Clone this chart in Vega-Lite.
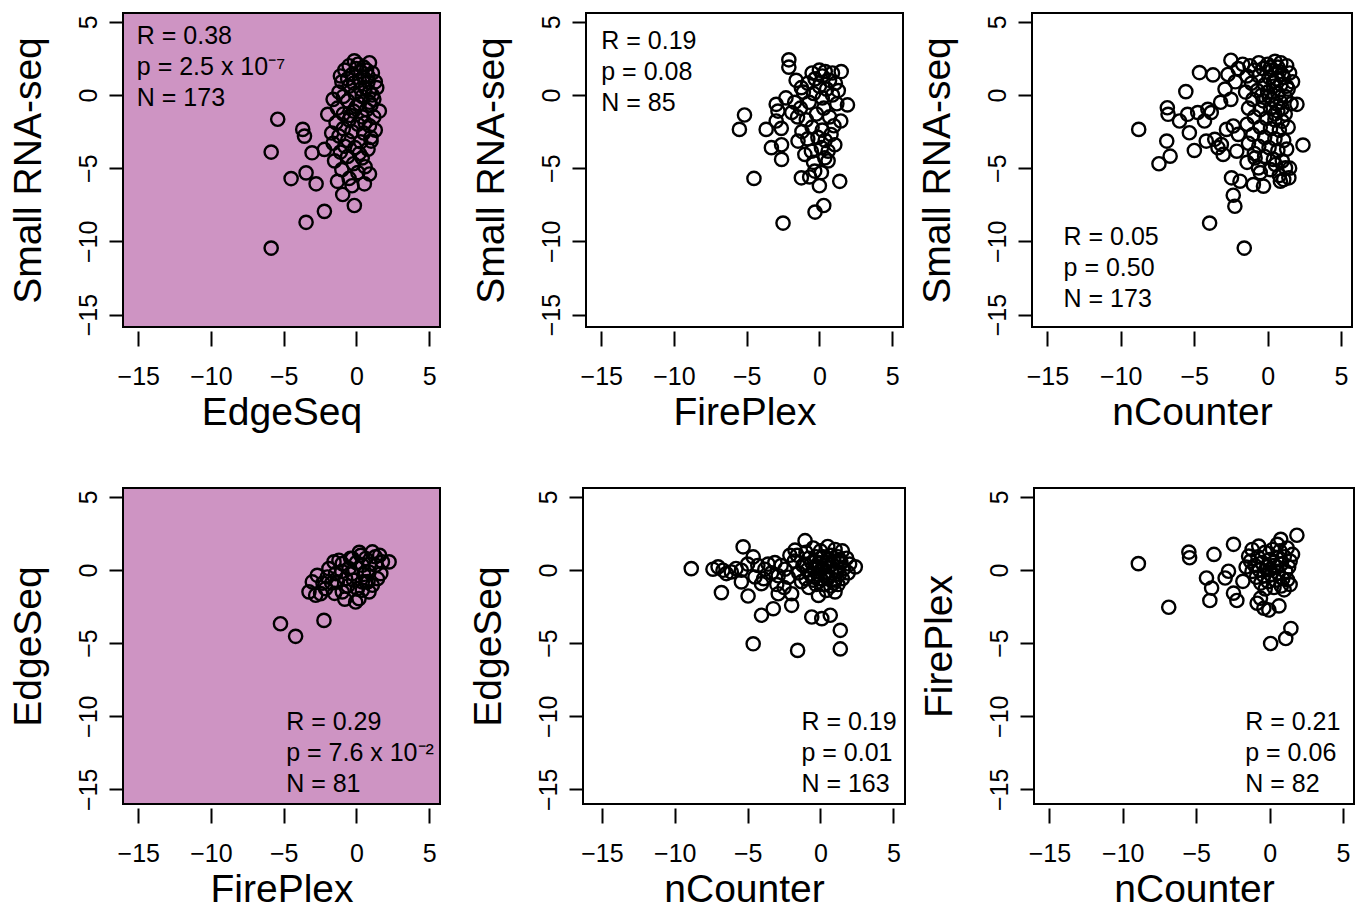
{
  "$schema": "https://vega.github.io/schema/vega-lite/v6.json",
  "background": "white",
  "padding": {"left": 7, "top": 12, "right": 0, "bottom": 0},
  "config": {
    "font": "Liberation Sans",
    "view": {"stroke": "black", "strokeWidth": 2},
    "axis": {"domain": false, "grid": false, "tickColor": "black", "tickWidth": 2, "labelColor": "black", "titleColor": "black", "labelFont": "Liberation Sans", "titleFont": "Liberation Sans", "labelFontSize": 25, "titleFontSize": 39, "titleFontWeight": "normal", "labelFlush": false, "labelOverlap": false},
    "axisX": {"tickSize": 15, "offset": 4, "labelPadding": 18, "titlePadding": 4},
    "axisY": {"tickSize": 14, "labelAngle": 270, "labelAlign": "center", "labelBaseline": "bottom", "labelPadding": 8, "titlePadding": 28},
    "point": {"shape": "circle", "filled": false, "size": 175, "strokeWidth": 2.4, "color": "black", "opacity": 1},
    "text": {"font": "Liberation Sans", "fontSize": 25, "align": "left", "baseline": "middle", "lineHeight": 31, "color": "black"}
  },
  "datasets": {
    "p1": [
      {"x": -5.41, "y": -1.66}, {"x": -5.86, "y": -3.9}, {"x": -5.86, "y": -10.46}, {"x": -3.69, "y": -2.35}, {"x": -3.57, "y": -2.81}, {"x": -3.05, "y": -3.95}, {"x": -4.49, "y": -5.71}, {"x": -3.46, "y": -5.32}, {"x": -2.77, "y": -6.07}, {"x": -2.2, "y": -7.95}, {"x": -3.46, "y": -8.7}, {"x": -0.14, "y": -7.55}, {"x": -0.94, "y": -6.8}, {"x": 0.55, "y": -6.07}, {"x": -2.2, "y": -3.72}, {"x": -1.97, "y": -1.32}, {"x": 1.58, "y": -1.1}, {"x": 1.01, "y": -3.15},
      {"x": -0.14, "y": 2.33}, {"x": 0.9, "y": 2.2}, {"x": 0.1, "y": 2.1}, {"x": -0.5, "y": 2.0}, {"x": 0.5, "y": 1.9}, {"x": -0.8, "y": 1.7}, {"x": 0.3, "y": 1.6}, {"x": 1.1, "y": 1.5}, {"x": -0.3, "y": 1.4}, {"x": 0.8, "y": 1.3}, {"x": 1.3, "y": 0.9}, {"x": 0.2, "y": 1.0}, {"x": -1.0, "y": 0.9}, {"x": -0.5, "y": 0.6}, {"x": 1.4, "y": 0.5}, {"x": 0.6, "y": 0.5}, {"x": 0.9, "y": 0.2}, {"x": -1.2, "y": 0.2}, {"x": -0.1, "y": 0.1}, {"x": 0.4, "y": -0.1}, {"x": -1.6, "y": -0.3}, {"x": 1.2, "y": -0.3}, {"x": -0.6, "y": -0.4}, {"x": 0.2, "y": -0.6}, {"x": 1.0, "y": -0.7}, {"x": -1.3, "y": -0.9}, {"x": 0.7, "y": -1.0}, {"x": -0.2, "y": -1.1}, {"x": -0.9, "y": -1.3}, {"x": 0.4, "y": -1.5}, {"x": 1.2, "y": -1.5}, {"x": -0.5, "y": -1.7}, {"x": -1.4, "y": -1.9}, {"x": 0.1, "y": -2.0}, {"x": 0.9, "y": -2.1}, {"x": -0.9, "y": -2.3}, {"x": -0.3, "y": -2.5}, {"x": 0.5, "y": -2.6}, {"x": -1.2, "y": -2.8}, {"x": 1.0, "y": -2.9}, {"x": -0.6, "y": -3.1}, {"x": 0.3, "y": -3.2}, {"x": -1.6, "y": -3.3}, {"x": -0.1, "y": -3.6}, {"x": 0.8, "y": -3.7}, {"x": -1.1, "y": -3.9}, {"x": -0.6, "y": -4.2}, {"x": 0.4, "y": -4.3}, {"x": -1.5, "y": -4.5}, {"x": -0.2, "y": -4.7}, {"x": 0.6, "y": -4.9}, {"x": -1.0, "y": -5.1}, {"x": 0.1, "y": -5.3}, {"x": -0.5, "y": -5.7}, {"x": 0.9, "y": -5.4}, {"x": -1.3, "y": -5.9}, {"x": -0.3, "y": -6.2},
      {"x": 0.0, "y": 1.8}, {"x": 0.7, "y": 1.7}, {"x": -0.6, "y": 1.1}, {"x": 0.3, "y": 0.4}, {"x": 1.1, "y": 0.0}, {"x": -0.9, "y": -0.1}, {"x": 0.0, "y": -0.8}, {"x": -0.4, "y": -1.4}, {"x": 0.6, "y": -1.9}, {"x": -0.8, "y": -3.5}, {"x": 0.2, "y": -4.0}, {"x": 0.9, "y": -0.5}, {"x": -1.7, "y": -2.6}, {"x": 1.3, "y": -2.4}, {"x": -0.2, "y": 0.8}, {"x": 0.5, "y": 1.2}, {"x": -1.1, "y": 1.3}, {"x": 0.8, "y": 0.9}
    ],
    "p2": [
      {"x": -2.1, "y": 2.4}, {"x": -2.1, "y": 1.9}, {"x": -5.15, "y": -1.37}, {"x": -5.5, "y": -2.35}, {"x": -3.66, "y": -2.35}, {"x": -2.97, "y": -0.64}, {"x": -2.85, "y": -1.1}, {"x": -2.97, "y": -1.78}, {"x": -2.62, "y": -2.28}, {"x": -3.3, "y": -3.6}, {"x": -2.6, "y": -3.4}, {"x": -2.6, "y": -4.4}, {"x": -4.5, "y": -5.7}, {"x": -2.5, "y": -8.75}, {"x": -0.3, "y": -8.0}, {"x": 0.3, "y": -7.55}, {"x": 1.4, "y": -5.9}, {"x": 0.0, "y": -6.2}, {"x": -1.24, "y": -5.66}, {"x": -0.67, "y": -5.6}, {"x": 1.93, "y": -0.68}, {"x": -1.24, "y": 0.5}, {"x": -1.7, "y": -0.5}, {"x": -1.9, "y": -1.2}, {"x": -1.47, "y": -3.15}, {"x": -1.0, "y": -4.06}, {"x": -0.55, "y": -3.84}, {"x": 0.14, "y": -3.6}, {"x": 0.37, "y": -4.3}, {"x": 0.6, "y": -3.84}, {"x": 1.06, "y": -3.4}, {"x": 1.47, "y": -1.78}, {"x": -0.32, "y": -5.2}, {"x": 0.14, "y": -5.3},
      {"x": -0.5, "y": 1.5}, {"x": 0.0, "y": 1.7}, {"x": 0.4, "y": 1.6}, {"x": 0.9, "y": 1.5}, {"x": 1.5, "y": 1.6}, {"x": 0.2, "y": 1.3}, {"x": -0.3, "y": 1.1}, {"x": 0.7, "y": 1.0}, {"x": 1.1, "y": 0.8}, {"x": -0.8, "y": 0.8}, {"x": 0.0, "y": 0.6}, {"x": 0.5, "y": 0.4}, {"x": -1.1, "y": 0.2}, {"x": -0.4, "y": 0.1}, {"x": 0.9, "y": 0.0}, {"x": 0.2, "y": -0.2}, {"x": -0.7, "y": -0.5}, {"x": 1.2, "y": -0.6}, {"x": -1.3, "y": -0.9}, {"x": 0.3, "y": -0.9}, {"x": -0.2, "y": -1.3}, {"x": 0.7, "y": -1.5}, {"x": -0.9, "y": -1.7}, {"x": 1.0, "y": -2.1}, {"x": -0.5, "y": -2.2}, {"x": 0.2, "y": -2.4}, {"x": -1.2, "y": -2.5}, {"x": -0.1, "y": -2.9}, {"x": 0.8, "y": -2.7}, {"x": -0.8, "y": -3.0}, {"x": 0.4, "y": -3.1},
      {"x": -1.5, "y": -1.5}, {"x": -2.3, "y": -0.2}, {"x": -1.6, "y": 1.0}, {"x": 0.6, "y": -4.5}, {"x": -0.4, "y": -4.6}, {"x": 1.3, "y": 0.3}
    ],
    "p3": [
      {"x": -8.78, "y": -2.35}, {"x": -7.4, "y": -4.7}, {"x": -6.64, "y": -4.18}, {"x": -6.87, "y": -3.15}, {"x": -6.83, "y": -0.87}, {"x": -6.78, "y": -1.32}, {"x": -6.0, "y": -1.78}, {"x": -5.45, "y": -1.32}, {"x": -5.33, "y": -2.58}, {"x": -4.99, "y": -3.79}, {"x": -5.57, "y": 0.23}, {"x": -4.64, "y": 1.53}, {"x": -3.72, "y": 1.37}, {"x": -2.5, "y": 2.37}, {"x": -4.76, "y": -1.2}, {"x": -4.07, "y": -0.98}, {"x": -3.84, "y": -1.2}, {"x": -4.3, "y": -1.78}, {"x": -4.18, "y": -3.15}, {"x": -3.6, "y": -3.03}, {"x": -3.38, "y": -3.6}, {"x": -3.03, "y": -4.06}, {"x": -3.15, "y": -3.38}, {"x": -2.8, "y": -2.35}, {"x": -2.34, "y": -2.12}, {"x": -2.0, "y": -2.69}, {"x": -2.1, "y": -3.84}, {"x": -2.46, "y": -5.66}, {"x": -1.88, "y": -5.89}, {"x": -2.34, "y": -6.85}, {"x": -2.23, "y": -7.6}, {"x": -3.95, "y": -8.75}, {"x": -1.59, "y": -10.46}, {"x": -0.97, "y": -6.12}, {"x": -0.28, "y": -6.23}, {"x": 1.1, "y": -5.78}, {"x": 1.45, "y": -5.66}, {"x": 0.87, "y": -5.89}, {"x": 2.41, "y": -3.42}, {"x": 2.0, "y": -0.64}, {"x": 1.22, "y": -4.98}, {"x": 0.53, "y": -4.75}, {"x": -0.62, "y": -4.98}, {"x": -0.85, "y": -4.3},
      {"x": -2.9, "y": 0.4}, {"x": -2.5, "y": -0.3}, {"x": -3.2, "y": -0.5}, {"x": -2.2, "y": 0.9}, {"x": -2.7, "y": 1.4}, {"x": -2.0, "y": 1.8}, {"x": -1.7, "y": 2.1},
      {"x": -1.2, "y": 2.0}, {"x": -0.6, "y": 2.2}, {"x": 0.0, "y": 2.1}, {"x": 0.5, "y": 2.3}, {"x": 0.9, "y": 2.2}, {"x": 1.3, "y": 2.0}, {"x": -0.9, "y": 1.7}, {"x": -0.3, "y": 1.8}, {"x": 0.3, "y": 1.7}, {"x": 0.8, "y": 1.6}, {"x": 1.5, "y": 1.5}, {"x": -1.4, "y": 1.3}, {"x": -0.6, "y": 1.3}, {"x": 0.1, "y": 1.2}, {"x": 0.6, "y": 1.1}, {"x": 1.1, "y": 1.2}, {"x": 1.7, "y": 0.9}, {"x": -1.1, "y": 0.8}, {"x": -0.2, "y": 0.7}, {"x": 0.4, "y": 0.6}, {"x": 0.9, "y": 0.7}, {"x": 1.4, "y": 0.4}, {"x": -1.5, "y": 0.2}, {"x": -0.7, "y": 0.3}, {"x": 0.0, "y": 0.2}, {"x": 0.7, "y": 0.1}, {"x": 1.2, "y": -0.1}, {"x": -1.0, "y": -0.3}, {"x": -0.3, "y": -0.4}, {"x": 0.3, "y": -0.3}, {"x": 0.9, "y": -0.5}, {"x": 1.6, "y": -0.6}, {"x": -1.3, "y": -0.9}, {"x": -0.5, "y": -1.0}, {"x": 0.2, "y": -0.9}, {"x": 0.7, "y": -1.1}, {"x": 1.2, "y": -1.3}, {"x": -0.9, "y": -1.5}, {"x": -0.1, "y": -1.6}, {"x": 0.5, "y": -1.7}, {"x": 1.0, "y": -1.8}, {"x": -1.4, "y": -2.0}, {"x": -0.5, "y": -2.2}, {"x": 0.2, "y": -2.3}, {"x": 0.8, "y": -2.4}, {"x": 1.4, "y": -2.2}, {"x": -1.0, "y": -2.7}, {"x": -0.2, "y": -2.9}, {"x": 0.5, "y": -3.0}, {"x": 1.1, "y": -3.1}, {"x": -1.3, "y": -3.3}, {"x": -0.6, "y": -3.5}, {"x": 0.1, "y": -3.6}, {"x": 0.7, "y": -3.8}, {"x": 1.3, "y": -3.7}, {"x": -0.9, "y": -4.0}, {"x": -0.2, "y": -4.2}, {"x": 0.4, "y": -4.4}, {"x": 1.0, "y": -4.5}, {"x": -1.4, "y": -4.6}, {"x": -0.5, "y": -5.3}, {"x": 0.2, "y": -5.1}, {"x": 0.8, "y": -5.5}, {"x": 1.5, "y": -5.0},
      {"x": 0.2, "y": 1.9}, {"x": 0.7, "y": 1.9}, {"x": 1.0, "y": 1.4}, {"x": 0.4, "y": 0.9}, {"x": 1.3, "y": 0.6}, {"x": 0.1, "y": -0.1}, {"x": 0.6, "y": -0.6}, {"x": 1.0, "y": -0.9}, {"x": -0.4, "y": 0.0}, {"x": 0.5, "y": -1.3}
    ],
    "p4": [
      {"x": -5.22, "y": -3.68}, {"x": -4.18, "y": -4.54}, {"x": -2.23, "y": -3.45},
      {"x": -3.26, "y": -1.5}, {"x": -3.03, "y": -0.82}, {"x": -2.69, "y": -0.37}, {"x": -2.46, "y": -1.62}, {"x": -2.8, "y": -1.73}, {"x": -2.12, "y": -1.28}, {"x": -1.89, "y": 0.09}, {"x": -1.54, "y": 0.55}, {"x": -1.2, "y": 0.66}, {"x": -1.43, "y": -0.25}, {"x": -0.97, "y": -1.5}, {"x": -0.74, "y": -0.6}, {"x": -0.51, "y": 0.09}, {"x": -0.28, "y": -0.25}, {"x": -0.05, "y": -2.19}, {"x": 0.18, "y": -1.96}, {"x": 0.07, "y": -1.28}, {"x": 0.41, "y": -0.82}, {"x": 0.41, "y": 0.32}, {"x": 0.64, "y": 0.78}, {"x": 0.87, "y": -0.14}, {"x": 1.1, "y": 1.23}, {"x": 1.33, "y": 0.32}, {"x": 1.45, "y": -0.6}, {"x": 1.79, "y": 0.55}, {"x": 2.25, "y": 0.55}, {"x": 1.68, "y": -0.25}, {"x": 0.64, "y": -0.82}, {"x": -0.28, "y": 0.78}, {"x": -0.97, "y": 0.43}, {"x": -1.31, "y": -0.82}, {"x": -2.0, "y": -0.48}, {"x": 0.3, "y": 1.0}, {"x": 1.1, "y": -1.05}, {"x": 0.87, "y": -1.5}, {"x": 0.41, "y": -1.39},
      {"x": -1.7, "y": -0.9}, {"x": -0.6, "y": -1.1}, {"x": 0.0, "y": 0.5}, {"x": 0.9, "y": 0.4}, {"x": -0.2, "y": -0.7}, {"x": 1.3, "y": 0.9}, {"x": 0.5, "y": -0.3}, {"x": -1.0, "y": -0.1}, {"x": -2.3, "y": -0.9}, {"x": 0.2, "y": 1.2}, {"x": -0.4, "y": 0.8}, {"x": 1.6, "y": 1.0}, {"x": 0.8, "y": -0.8}, {"x": -1.5, "y": -1.6}, {"x": -0.8, "y": -2.0}
    ],
    "p5": [
      {"x": -8.87, "y": 0.09}, {"x": -7.38, "y": 0.05}, {"x": -7.03, "y": 0.21}, {"x": -6.69, "y": -0.02}, {"x": -6.46, "y": -0.25}, {"x": -6.12, "y": -0.14}, {"x": -5.43, "y": -0.02}, {"x": -5.43, "y": -0.82}, {"x": -6.8, "y": -1.55}, {"x": -5.31, "y": 1.58}, {"x": -4.97, "y": -1.78}, {"x": -4.62, "y": 0.89}, {"x": -4.5, "y": -0.48}, {"x": -4.05, "y": -0.94}, {"x": -4.05, "y": -3.1}, {"x": -3.24, "y": -2.65}, {"x": -4.62, "y": -5.05}, {"x": -1.98, "y": -2.42}, {"x": -1.57, "y": -5.5}, {"x": -0.6, "y": -3.22}, {"x": 0.09, "y": -3.33}, {"x": 0.67, "y": -3.1}, {"x": 1.36, "y": -4.13}, {"x": 1.36, "y": -5.4}, {"x": -1.06, "y": 2.0}, {"x": -1.75, "y": 1.35}, {"x": 2.39, "y": 0.21}, {"x": -2.9, "y": -1.63}, {"x": -1.98, "y": -1.63}, {"x": -0.14, "y": -1.74},
      {"x": -3.82, "y": 0.05}, {"x": -3.36, "y": -0.2}, {"x": -2.9, "y": -0.4}, {"x": -2.44, "y": 0.05}, {"x": -3.13, "y": 0.5}, {"x": -3.6, "y": 0.4}, {"x": -2.7, "y": 0.3}, {"x": -2.2, "y": -0.5}, {"x": -3.0, "y": -1.0}, {"x": -2.5, "y": -1.2}, {"x": -1.8, "y": 0.6}, {"x": -1.5, "y": -0.2}, {"x": -1.2, "y": 0.3}, {"x": -1.6, "y": 1.0}, {"x": -1.3, "y": -0.8}, {"x": -2.1, "y": 1.0}, {"x": -3.9, "y": -0.6}, {"x": -4.3, "y": 0.3}, {"x": -5.0, "y": 0.4}, {"x": -5.8, "y": 0.1},
      {"x": -1.0, "y": 1.2}, {"x": -0.5, "y": 1.5}, {"x": 0.0, "y": 1.3}, {"x": 0.5, "y": 1.6}, {"x": 1.0, "y": 1.4}, {"x": 1.5, "y": 1.3}, {"x": -0.8, "y": 0.8}, {"x": -0.3, "y": 0.9}, {"x": 0.2, "y": 0.9}, {"x": 0.7, "y": 1.0}, {"x": 1.2, "y": 0.9}, {"x": 1.8, "y": 0.8}, {"x": -1.1, "y": 0.4}, {"x": -0.6, "y": 0.5}, {"x": -0.1, "y": 0.5}, {"x": 0.4, "y": 0.5}, {"x": 0.9, "y": 0.6}, {"x": 1.4, "y": 0.5}, {"x": 2.0, "y": 0.4}, {"x": -0.9, "y": 0.0}, {"x": -0.4, "y": 0.1}, {"x": 0.1, "y": 0.1}, {"x": 0.6, "y": 0.2}, {"x": 1.1, "y": 0.2}, {"x": 1.6, "y": 0.1}, {"x": -0.7, "y": -0.3}, {"x": -0.2, "y": -0.3}, {"x": 0.3, "y": -0.2}, {"x": 0.8, "y": -0.2}, {"x": 1.3, "y": -0.3}, {"x": 1.9, "y": -0.2}, {"x": -1.0, "y": -0.6}, {"x": -0.5, "y": -0.7}, {"x": 0.0, "y": -0.6}, {"x": 0.5, "y": -0.6}, {"x": 1.0, "y": -0.7}, {"x": 1.5, "y": -0.6}, {"x": -0.3, "y": -1.0}, {"x": 0.2, "y": -1.0}, {"x": 0.7, "y": -1.1}, {"x": 1.2, "y": -1.0}, {"x": -0.8, "y": -1.2}, {"x": 0.4, "y": -1.4}, {"x": 1.0, "y": -1.5},
      {"x": 0.3, "y": 0.3}, {"x": 0.8, "y": 0.4}, {"x": -0.2, "y": 0.2}, {"x": 0.5, "y": -0.4}, {"x": 1.1, "y": -0.1}, {"x": 0.0, "y": 0.8}, {"x": 0.6, "y": 0.7}, {"x": 1.3, "y": 0.7}, {"x": -0.4, "y": -0.5}, {"x": 0.9, "y": -0.9}
    ],
    "p6": [
      {"x": -8.94, "y": 0.43}, {"x": -6.87, "y": -2.55}, {"x": -5.5, "y": 1.22}, {"x": -5.45, "y": 0.83}, {"x": -3.79, "y": 1.06}, {"x": -2.46, "y": 1.75}, {"x": -4.3, "y": -0.55}, {"x": -3.95, "y": -1.24}, {"x": -4.07, "y": -2.09}, {"x": -3.03, "y": -0.55}, {"x": -2.8, "y": -0.09}, {"x": -2.46, "y": -1.59}, {"x": -2.23, "y": -2.09}, {"x": -1.82, "y": -0.78}, {"x": -0.85, "y": -2.28}, {"x": -0.39, "y": -2.62}, {"x": -0.05, "y": -2.74}, {"x": 0.64, "y": -2.46}, {"x": -0.62, "y": -1.93}, {"x": 0.07, "y": -5.03}, {"x": 1.1, "y": -4.69}, {"x": 1.45, "y": -4.0}, {"x": 1.86, "y": 2.37}, {"x": 0.76, "y": 2.09}, {"x": 0.53, "y": 1.75}, {"x": -0.74, "y": 1.63}, {"x": -1.19, "y": 1.4}, {"x": -1.43, "y": 0.94}, {"x": 1.56, "y": 1.06}, {"x": 1.22, "y": -0.67}, {"x": 0.99, "y": -1.36},
      {"x": -1.3, "y": 0.6}, {"x": -0.8, "y": 0.9}, {"x": -0.3, "y": 1.2}, {"x": 0.2, "y": 1.4}, {"x": 0.7, "y": 1.3}, {"x": 1.2, "y": 1.5}, {"x": -1.0, "y": 0.3}, {"x": -0.5, "y": 0.5}, {"x": 0.0, "y": 0.7}, {"x": 0.5, "y": 0.8}, {"x": 1.0, "y": 0.9}, {"x": 1.4, "y": 0.6}, {"x": -1.2, "y": -0.1}, {"x": -0.7, "y": 0.0}, {"x": -0.2, "y": 0.2}, {"x": 0.3, "y": 0.3}, {"x": 0.8, "y": 0.4}, {"x": 1.3, "y": 0.2}, {"x": -0.9, "y": -0.5}, {"x": -0.4, "y": -0.4}, {"x": 0.1, "y": -0.3}, {"x": 0.6, "y": -0.2}, {"x": 1.1, "y": -0.1}, {"x": -0.6, "y": -0.9}, {"x": -0.1, "y": -0.8}, {"x": 0.4, "y": -0.7}, {"x": 0.9, "y": -0.6}, {"x": -0.3, "y": -1.3}, {"x": 0.3, "y": -1.2}, {"x": 0.8, "y": -1.1}, {"x": 1.4, "y": -1.0}, {"x": 0.0, "y": 0.0}, {"x": 0.5, "y": 0.2}, {"x": -1.6, "y": 0.2}
    ]
  },
  "vconcat": [
    {
      "hconcat": [
        {
          "hconcat": [
            {
              "width": 317, "height": 314,
              "view": {"fill": "#ce94c3"},
              "layer": [
                {"data": {"name": "p1"}, "mark": "point",
                 "encoding": {
                   "x": {"field": "x", "type": "quantitative", "scale": {"domain": [-16.05, 5.75], "nice": false, "zero": false}, "axis": {"title": "EdgeSeq", "values": [-15, -10, -5, 0, 5]}},
                   "y": {"field": "y", "type": "quantitative", "scale": {"domain": [-15.85, 5.6], "nice": false, "zero": false}, "axis": {"title": "Small RNA-seq", "values": [-15, -10, -5, 0, 5]}}}},
                {"data": {"values": [{}]}, "mark": {"type": "text", "text": ["R = 0.38", "p = 2.5 x 10⁻⁷", "N = 173"]},
                 "encoding": {"x": {"datum": -15.1, "type": "quantitative"}, "y": {"datum": 4.04, "type": "quantitative"}}}
              ]
            },
            {
              "width": 317, "height": 314,
              "layer": [
                {"data": {"name": "p2"}, "mark": "point",
                 "encoding": {
                   "x": {"field": "x", "type": "quantitative", "scale": {"domain": [-16.05, 5.75], "nice": false, "zero": false}, "axis": {"title": "FirePlex", "values": [-15, -10, -5, 0, 5]}},
                   "y": {"field": "y", "type": "quantitative", "scale": {"domain": [-15.85, 5.6], "nice": false, "zero": false}, "axis": {"title": "Small RNA-seq", "values": [-15, -10, -5, 0, 5]}}}},
                {"data": {"values": [{}]}, "mark": {"type": "text", "text": ["R = 0.19", "p = 0.08", "N = 85"]},
                 "encoding": {"x": {"datum": -15.0, "type": "quantitative"}, "y": {"datum": 3.7, "type": "quantitative"}}}
              ]
            }
          ],
          "spacing": 29
        },
        {
          "width": 320, "height": 314,
          "layer": [
            {"data": {"name": "p3"}, "mark": "point",
             "encoding": {
               "x": {"field": "x", "type": "quantitative", "scale": {"domain": [-16.05, 5.75], "nice": false, "zero": false}, "axis": {"title": "nCounter", "values": [-15, -10, -5, 0, 5]}},
               "y": {"field": "y", "type": "quantitative", "scale": {"domain": [-15.85, 5.6], "nice": false, "zero": false}, "axis": {"title": "Small RNA-seq", "values": [-15, -10, -5, 0, 5]}}}},
            {"data": {"values": [{}]}, "mark": {"type": "text", "text": ["R = 0.05", "p = 0.50", "N = 173"]},
             "encoding": {"x": {"datum": -13.9, "type": "quantitative"}, "y": {"datum": -9.73, "type": "quantitative"}}}
          ]
        }
      ],
      "spacing": 12
    },
    {
      "hconcat": [
        {
          "hconcat": [
            {
              "width": 317, "height": 316,
              "view": {"fill": "#ce94c3"},
              "layer": [
                {"data": {"name": "p4"}, "mark": "point",
                 "encoding": {
                   "x": {"field": "x", "type": "quantitative", "scale": {"domain": [-16.05, 5.75], "nice": false, "zero": false}, "axis": {"title": "FirePlex", "values": [-15, -10, -5, 0, 5]}},
                   "y": {"field": "y", "type": "quantitative", "scale": {"domain": [-16.0, 5.6], "nice": false, "zero": false}, "axis": {"title": "EdgeSeq", "values": [-15, -10, -5, 0, 5]}}}},
                {"data": {"values": [{}]}, "mark": {"type": "text", "text": ["R = 0.29", "p = 7.6 x 10⁻²", "N = 81"]},
                 "encoding": {"x": {"datum": -4.83, "type": "quantitative"}, "y": {"datum": -10.4, "type": "quantitative"}}}
              ]
            },
            {
              "width": 322, "height": 316,
              "layer": [
                {"data": {"name": "p5"}, "mark": "point",
                 "encoding": {
                   "x": {"field": "x", "type": "quantitative", "scale": {"domain": [-16.3, 5.8], "nice": false, "zero": false}, "axis": {"title": "nCounter", "values": [-15, -10, -5, 0, 5]}},
                   "y": {"field": "y", "type": "quantitative", "scale": {"domain": [-16.0, 5.6], "nice": false, "zero": false}, "axis": {"title": "EdgeSeq", "values": [-15, -10, -5, 0, 5]}}}},
                {"data": {"values": [{}]}, "mark": {"type": "text", "text": ["R = 0.19", "p = 0.01", "N = 163"]},
                 "encoding": {"x": {"datum": -1.31, "type": "quantitative"}, "y": {"datum": -10.4, "type": "quantitative"}}}
              ]
            }
          ],
          "spacing": 27
        },
        {
          "width": 320, "height": 316,
          "layer": [
            {"data": {"name": "p6"}, "mark": "point",
             "encoding": {
               "x": {"field": "x", "type": "quantitative", "scale": {"domain": [-16.05, 5.75], "nice": false, "zero": false}, "axis": {"title": "nCounter", "values": [-15, -10, -5, 0, 5]}},
               "y": {"field": "y", "type": "quantitative", "scale": {"domain": [-16.0, 5.6], "nice": false, "zero": false}, "axis": {"title": "FirePlex", "values": [-15, -10, -5, 0, 5]}}}},
            {"data": {"values": [{}]}, "mark": {"type": "text", "text": ["R = 0.21", "p = 0.06", "N = 82"]},
             "encoding": {"x": {"datum": -1.66, "type": "quantitative"}, "y": {"datum": -10.4, "type": "quantitative"}}}
          ]
        }
      ],
      "spacing": 13
    }
  ],
  "spacing": 54
}
